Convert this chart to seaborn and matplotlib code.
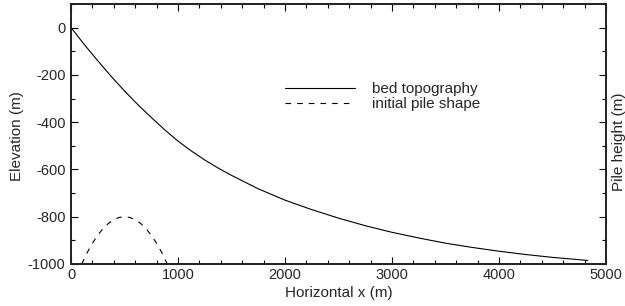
import matplotlib
matplotlib.use("Agg")
import matplotlib.pyplot as plt
import seaborn as sns
import pandas as pd
from matplotlib.ticker import MultipleLocator, NullFormatter

# Data
bed_x = [0, 125, 250, 375, 500, 625, 750, 875, 1000, 1125, 1250, 1375, 1500,
         1750, 2000, 2250, 2500, 2750, 3000, 3250, 3500, 3750, 4000, 4250,
         4500, 4830]
bed_y = [0, -72, -140, -206, -268, -326, -380, -432, -480, -522, -560, -594,
         -625, -682, -730, -770, -806, -838, -866, -890, -912, -930, -946,
         -960, -972, -985]

pile_x = [100, 150, 200, 250, 300, 350, 400, 450, 500, 550, 600, 650, 700,
          750, 800, 850, 900]
pile_y = [-1000, -953.1, -912.5, -878.1, -850, -828.1, -812.5, -803.1, -800,
          -803.1, -812.5, -828.1, -850, -878.1, -912.5, -953.1, -1000]

labels = ["bed topography", "initial pile shape"]

sns.set_style("ticks")
plt.rcParams['font.family'] = ['Liberation Sans', 'DejaVu Sans']
plt.rcParams['font.size'] = 10.5
plt.rcParams['axes.unicode_minus'] = False

bed = pd.DataFrame({"x": bed_x, "y": bed_y})
pile = pd.DataFrame({"x": pile_x, "y": pile_y})

fig = plt.figure(figsize=(6.25, 3.06), dpi=100)
ax = fig.add_axes([0.1136, 0.1373, 0.8560, 0.8497])

sns.lineplot(data=bed, x="x", y="y", ax=ax, color="black", lw=0.8,
             label=labels[0], sort=False)
sns.lineplot(data=pile, x="x", y="y", ax=ax, color="black", lw=0.8,
             linestyle=(0, (5, 5.5)), label=labels[1], sort=False)

ax.set_xlim(0, 5000)
ax.set_ylim(-1000, 100)
ax.xaxis.set_major_locator(MultipleLocator(1000))
ax.xaxis.set_minor_locator(MultipleLocator(200))
ax.yaxis.set_major_locator(MultipleLocator(200))
ax.yaxis.set_minor_locator(MultipleLocator(100))
ax.tick_params(which='both', direction='in', top=True, right=False,
               color='black', width=0.8)
ax.tick_params(which='major', length=5, labelsize=10.5)
ax.tick_params(axis='y', which='major', pad=4)
ax.tick_params(axis='x', which='major', pad=3)
ax.tick_params(which='minor', length=3)
for s in ax.spines.values():
    s.set_linewidth(1.2)
    s.set_color('black')

ax.set_xlabel("Horizontal x (m)", fontsize=11, labelpad=3)
ax.set_ylabel("Elevation (m)", fontsize=11)
ax.yaxis.set_label_coords(-0.088, 0.492)

ax2 = ax.twinx()
ax2.set_ylim(-1000, 100)
ax2.yaxis.set_major_locator(MultipleLocator(200))
ax2.yaxis.set_minor_locator(MultipleLocator(100))
ax2.yaxis.set_major_formatter(NullFormatter())
ax2.tick_params(which='both', direction='in', color='black', width=0.8)
ax2.tick_params(which='major', length=5)
ax2.tick_params(which='minor', length=3)
ax2.set_ylabel("Pile height (m)", fontsize=11)
ax2.yaxis.set_label_coords(1.011, 0.469)
for s in ax2.spines.values():
    s.set_linewidth(1.2)

leg = ax.legend(loc='center left', bbox_to_anchor=(0.456, 0.6846),
                bbox_transform=fig.transFigure, frameon=False, fontsize=11,
                handlelength=4.6, handletextpad=1.1, borderpad=0,
                borderaxespad=0, labelspacing=0.05)

fig.savefig("out.png", dpi=100)
